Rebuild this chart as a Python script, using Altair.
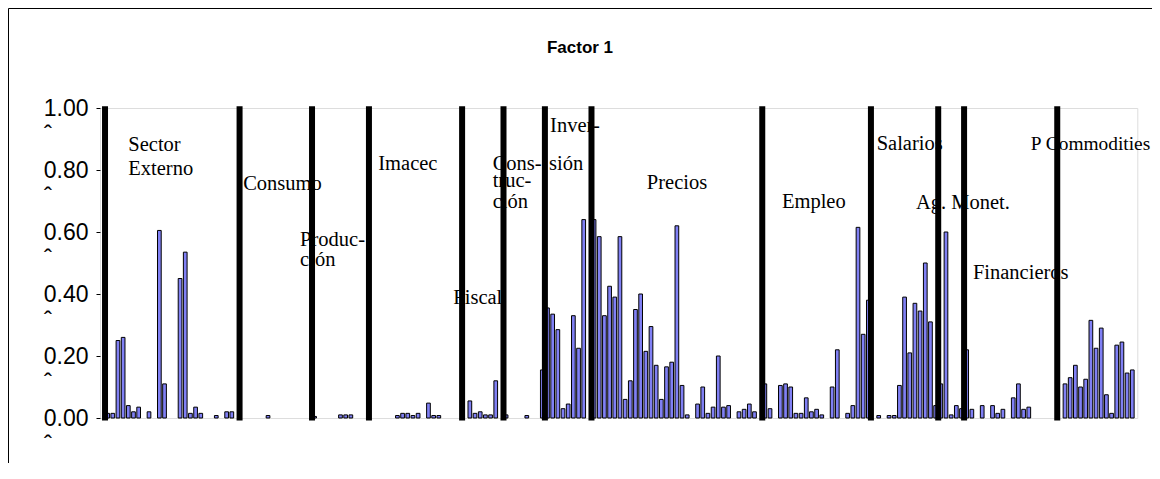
import altair as alt
import pandas as pd

# bar slot index (position along the category axis) and loading value
bar_idx = [-1, 0, 1, 2, 3, 4, 5, 7, 9, 10, 13, 14, 15, 16, 17, 20, 22, 23,
           30, 39, 44, 45, 46,
           55, 56, 57, 58, 59, 61, 62, 63,
           69, 70, 71, 72, 73, 74, 76, 80, 83,
           84, 85, 86, 87, 88, 89, 90, 91, 93,
           94, 95, 96, 97, 98, 99, 100, 101, 102, 103, 104, 105, 106, 107, 108, 109,
           110, 111, 113, 114, 115, 116, 117, 118, 119, 121, 122, 123, 124,
           126, 127, 129, 130, 131, 132, 133, 134, 135, 136, 137, 139, 140, 142, 143,
           144, 145, 146,
           148, 150, 151, 152, 153, 154, 155, 156, 157, 158, 159,
           160, 161, 162, 163, 164,
           165, 166, 168, 170, 171, 172, 174, 175, 176, 177,
           184, 185, 186, 187, 188, 189, 190, 191, 192, 193, 194, 195, 196, 197]
bar_val = [0.015, 0.015, 0.25, 0.26, 0.04, 0.02, 0.035, 0.02, 0.605, 0.11, 0.45, 0.535,
           0.015, 0.035, 0.015, 0.008, 0.02, 0.02,
           0.008, 0.005, 0.01, 0.01, 0.01,
           0.008, 0.015, 0.015, 0.008, 0.015, 0.048, 0.008, 0.008,
           0.055, 0.015, 0.02, 0.01, 0.01, 0.12, 0.01, 0.008, 0.155,
           0.355, 0.335, 0.285, 0.03, 0.045, 0.33, 0.225, 0.64, 0.64,
           0.585, 0.33, 0.425, 0.39, 0.585, 0.06, 0.12, 0.35, 0.40, 0.215, 0.295, 0.17,
           0.06, 0.165, 0.18, 0.62,
           0.105, 0.01, 0.045, 0.10, 0.015, 0.035, 0.20, 0.035, 0.04, 0.02, 0.028,
           0.045, 0.02,
           0.11, 0.03, 0.105, 0.11, 0.10, 0.015, 0.015, 0.065, 0.02, 0.028, 0.01, 0.10,
           0.22, 0.015, 0.04,
           0.615, 0.27, 0.38,
           0.008, 0.008, 0.008, 0.105, 0.39, 0.21, 0.37, 0.345, 0.50, 0.31, 0.04,
           0.11, 0.60, 0.01, 0.04, 0.03,
           0.22, 0.028, 0.04, 0.04, 0.015, 0.028, 0.065, 0.11, 0.028, 0.035,
           0.11, 0.13, 0.17, 0.10, 0.125, 0.315, 0.225, 0.29, 0.075, 0.015, 0.235,
           0.245, 0.145, 0.155]

# group separators (between slots)
sep_pos = [-1.5, 24.5, 38.5, 49.5, 67.5, 75.5, 83.5, 92.5, 125.5, 146.5, 159.5, 164.5, 182.5]

# group labels: text, slot position, value height (baseline), font size
lab_text = ["Sector", "Externo", "Consumo", "Produc-", "ción", "Imacec", "Fiscal",
            "Cons-", "truc-", "ción", "Inver-", "sión", "Precios", "Empleo",
            "Salarios", "Ag. Monet.", "Financieros", "P Commodities"]
lab_x = [3.0, 3.0, 25.2, 36.2, 36.2, 51.3, 65.8,
         73.4, 73.4, 73.4, 84.5, 84.3, 103.2, 129.3,
         147.6, 155.2, 166.2, 177.4]
lab_y = [0.861, 0.783, 0.737, 0.554, 0.49, 0.799, 0.369,
         0.799, 0.745, 0.679, 0.923, 0.799, 0.738, 0.679,
         0.864, 0.675, 0.45, 0.864]
lab_size = [20.5] * 17 + [19.4]

tick_vals = [0.0, 0.2, 0.4, 0.6, 0.8, 1.0]

bars_df = pd.DataFrame({"i": bar_idx, "v": bar_val})
sep_df = pd.DataFrame({"s": sep_pos})
lab_df = pd.DataFrame({"t": lab_text, "x": lab_x, "y": lab_y, "fs": lab_size})
tick_df = pd.DataFrame({"t": tick_vals})
one = pd.DataFrame({"a": [0]})

xscale = alt.Scale(domain=[-2.47, 197.97], nice=False, zero=False, padding=0)
yscale = alt.Scale(domain=[0, 1], nice=False, padding=0)

yaxis = alt.Axis(values=tick_vals, format=".2f", labelFont="Liberation Sans",
                 labelFontSize=23, labelColor="black", tickColor="black",
                 tickSize=4, labelPadding=8, domain=False, grid=False, title=None)

bars = alt.Chart(bars_df).mark_bar(size=3.7, color="#8080F4", stroke="black",
                                   strokeWidth=1).encode(
    x=alt.X("i:Q", scale=xscale, axis=None),
    y=alt.Y("v:Q", scale=yscale, axis=yaxis),
)

labels = alt.Chart(lab_df).mark_text(font="Liberation Serif",
                                     align="left", baseline="alphabetic",
                                     color="black").encode(
    x=alt.X("x:Q", scale=xscale),
    y=alt.Y("y:Q", scale=yscale),
    text="t:N",
    size=alt.Size("fs:Q", scale=None, legend=None),
)

seps = alt.Chart(sep_df).mark_rule(color="black", strokeWidth=6).encode(
    x=alt.X("s:Q", scale=xscale),
    y=alt.datum(1.006),
    y2=alt.datum(-0.008),
)

carets = alt.Chart(tick_df).mark_text(text="ˆ", font="Liberation Sans", fontSize=24,
                                      dy=27, color="black").encode(
    x=alt.value(-52),
    y=alt.Y("t:Q", scale=yscale),
)

title = alt.Chart(one).mark_text(text="Factor 1", font="Liberation Sans",
                                 fontWeight="bold", fontSize=17, align="center",
                                 baseline="alphabetic", color="black").encode(
    x=alt.value(480), y=alt.value(-55))

frame = alt.Chart(one).mark_rect(filled=False, stroke="black", strokeWidth=1).encode(
    x=alt.value(-91.5), x2=alt.value(3000), y=alt.value(-99.5), y2=alt.value(3000))

chart = alt.layer(bars, labels, seps, carets, title, frame).properties(
    width=1037.3, height=310,
    autosize=alt.AutoSizeParams(type="none"),
    padding={"left": 92, "top": 100, "right": 14.7, "bottom": 45},
).configure_view(stroke="black", strokeWidth=1).configure(background="white")

chart.save("out.html", embed_options={"renderer": "svg", "actions": False})
